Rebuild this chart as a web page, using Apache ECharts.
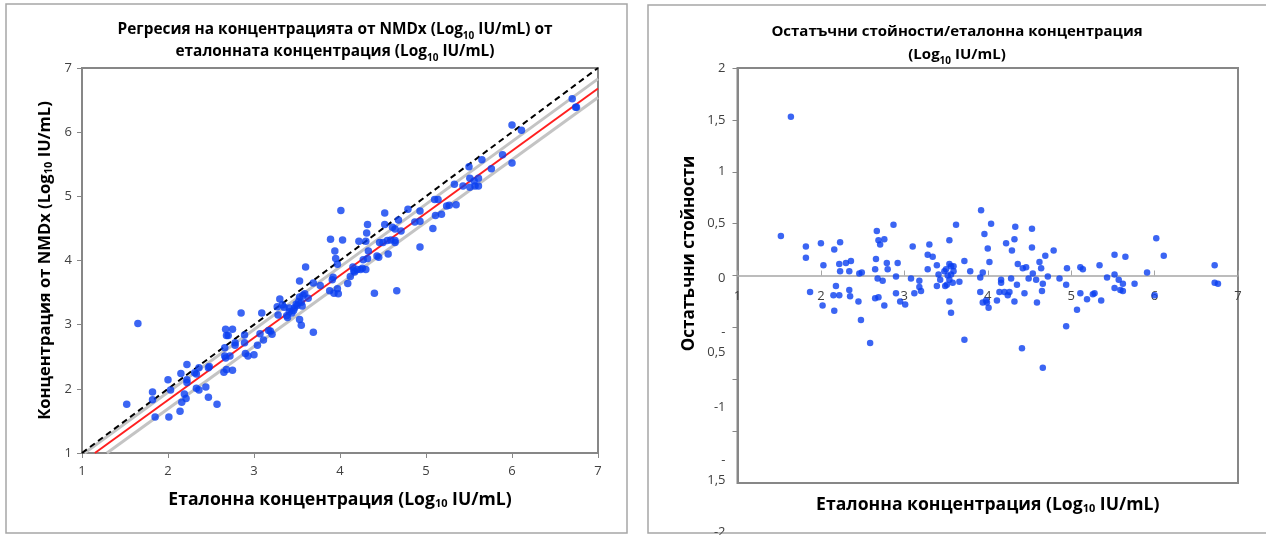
<!DOCTYPE html>
<html>
<head>
<meta charset="utf-8">
<script src="https://cdn.jsdelivr.net/npm/echarts@6/dist/echarts.min.js"></script>
<style>
  html, body { margin: 0; padding: 0; background: #fff; }
  #main { width: 1266px; height: 535px; }
</style>
</head>
<body>
<div id="main"></div>
<script>
// left chart: NMDx concentration vs reference concentration (log10 IU/mL)
const refConc = [
  1.52, 1.65, 1.82, 1.82, 1.85, 2.00, 2.01, 2.03, 2.15, 2.22, 2.16, 2.14, 2.21, 2.19, 2.22, 2.22,
  2.31, 2.33, 2.36, 2.33, 2.36, 2.44, 2.47, 2.47, 2.48, 2.57, 2.67, 2.68, 2.70, 2.75, 2.66, 2.66,
  2.67, 2.72, 2.65, 2.68, 2.75, 2.78, 2.78, 2.85, 2.89, 2.89, 2.90, 2.93, 3.00, 3.04, 3.07, 3.09,
  3.11, 3.17, 3.21, 3.19, 3.28, 3.30, 3.27, 3.33, 3.35, 3.39, 3.41, 3.41, 3.44, 3.47, 3.49, 3.53,
  3.53, 3.55, 3.53, 3.55, 3.56, 3.59, 3.60, 3.63, 3.69, 3.69, 3.77, 3.46, 3.50, 3.52, 3.38, 3.57,
  3.89, 3.91, 3.88, 3.93, 3.97, 3.98, 3.95, 3.97, 3.94, 4.01, 4.03, 4.09, 4.12, 4.15, 4.16, 4.20,
  4.22, 4.24, 4.27, 4.30, 4.31, 4.32, 4.32, 4.33, 4.40, 4.45, 4.26, 4.30, 4.17, 3.92,
  4.43, 4.46, 4.52, 4.52, 4.50, 4.56, 4.55, 4.59, 4.61, 4.64, 4.64, 4.64, 4.68, 4.66, 4.71, 4.79,
  4.87, 4.93, 4.93, 4.93, 5.08, 5.10, 5.14, 5.11, 5.18, 5.24, 5.27, 5.35, 5.33, 5.43, 5.50, 5.51,
  5.51, 5.56, 5.61, 5.57, 5.61, 5.65, 5.76, 5.89, 6.00, 6.00, 6.11, 6.70, 6.74, 6.75
];
const nmdxConc = [
  1.76, 3.02, 1.95, 1.83, 1.56, 2.14, 1.56, 1.98, 2.24, 2.38, 1.79, 1.65, 1.85, 1.92, 2.14, 2.10,
  2.25, 2.23, 2.33, 2.01, 1.98, 2.03, 1.87, 2.33, 2.35, 1.76, 2.93, 2.83, 2.83, 2.93, 2.64, 2.51,
  2.48, 2.51, 2.26, 2.30, 2.29, 2.72, 2.68, 3.18, 2.84, 2.72, 2.55, 2.51, 2.53, 2.68, 2.86, 3.18,
  2.76, 2.91, 2.85, 2.90, 3.15, 3.40, 3.28, 3.31, 3.27, 3.11, 3.20, 3.26, 3.18, 3.26, 3.32, 3.68,
  3.43, 3.35, 3.08, 2.99, 3.29, 3.48, 3.90, 3.41, 2.88, 3.65, 3.61, 3.22, 3.30, 3.36, 3.14, 3.46,
  4.33, 3.70, 3.53, 3.49, 3.56, 3.48, 4.03, 3.94, 4.15, 4.78, 4.32, 3.64, 3.75, 3.90, 3.84, 3.86,
  4.30, 3.86, 4.01, 4.30, 4.43, 4.56, 4.03, 4.15, 3.49, 4.05, 3.88, 3.86, 3.82, 3.74,
  4.07, 4.28, 4.74, 4.56, 4.28, 4.10, 4.31, 4.32, 4.52, 4.49, 4.31, 4.28, 4.63, 3.53, 4.46, 4.80,
  4.60, 4.77, 4.61, 4.21, 4.50, 4.95, 4.95, 4.70, 4.72, 4.85, 4.86, 4.87, 5.19, 5.16, 5.46, 5.28,
  5.14, 5.24, 5.28, 5.16, 5.16, 5.57, 5.43, 5.65, 5.52, 6.11, 6.03, 6.52, 6.39, 6.39
];

// reference lines (end points in data units)
const identityLine = [[1, 1], [7, 7]];
const fitLine = [[1.15, 1], [7, 6.68]];
const upperBand = [[1.03, 1], [7, 6.83]];
const lowerBand = [[1.29, 1], [7, 6.54]];

// right chart: residuals vs reference concentration
const residRefConc = [
  1.52, 1.64, 1.82, 1.82, 1.87, 2.00, 2.03, 2.02, 2.16, 2.23, 2.22, 2.23, 2.18, 2.15, 2.22, 2.16,
  2.30, 2.36, 2.34, 2.34, 2.35, 2.46, 2.49, 2.45, 2.48, 2.59, 2.67, 2.69, 2.76, 2.71, 2.66, 2.65,
  2.79, 2.80, 2.68, 2.74, 2.65, 2.69, 2.76, 2.87, 2.92, 2.90, 2.90, 2.95, 3.01, 3.10, 3.08, 3.12,
  3.18, 3.18, 3.20, 3.30, 3.28, 3.34, 3.28, 3.39, 3.41, 3.43, 3.39, 3.49, 3.48, 3.50, 3.54, 3.54,
  3.56, 3.59, 3.59, 3.56, 3.52, 3.54, 3.58, 3.51, 3.54, 3.56, 3.62, 3.66, 3.72, 3.72, 3.79, 3.92,
  3.96, 4.00, 4.02, 4.04, 3.94, 3.91, 3.91, 3.94, 3.98, 3.99, 4.01, 4.11, 4.14, 4.16, 4.16, 4.20,
  4.22, 4.24, 4.26, 4.28, 4.29, 4.32, 4.33, 4.32, 4.36, 4.35, 4.41, 4.42, 4.46, 4.44, 4.49, 4.53,
  4.53, 4.54, 4.58, 4.59, 4.62, 4.64, 4.66, 4.65, 4.66, 4.69, 4.72, 4.79, 4.86, 4.94, 4.94, 4.95,
  5.07, 5.11, 5.14, 5.11, 5.19, 5.26, 5.28, 5.34, 5.36, 5.43, 5.52, 5.52, 5.52, 5.57, 5.62, 5.59,
  5.62, 5.65, 5.76, 5.91, 6.00, 6.02, 6.11, 6.72, 6.72, 6.76
];
const residuals = [
  0.38, 1.53, 0.28, 0.17, -0.16, 0.31, 0.10, -0.29, 0.25, 0.32, 0.11, 0.04, -0.10, -0.19, -0.19, -0.34,
  0.12, 0.14, 0.04, -0.14, -0.20, 0.02, 0.03, -0.25, -0.43, -0.65, 0.43, 0.34, 0.35, 0.30, 0.16, 0.06,
  0.12, 0.06, -0.03, -0.05, -0.22, -0.21, -0.29, 0.49, 0.12, -0.01, -0.17, -0.25, -0.28, 0.28, -0.03, -0.17,
  -0.05, -0.11, -0.15, 0.30, 0.20, 0.18, 0.06, 0.10, 0.01, -0.04, -0.10, -0.10, 0.04, 0.06, 0.34, 0.11,
  0.09, 0.09, 0.04, 0.01, 0.00, -0.04, -0.07, -0.09, -0.25, -0.36, 0.49, -0.06, 0.14, -0.62, 0.04, 0.63,
  0.40, 0.26, 0.13, 0.50, 0.03, -0.02, -0.16, -0.26, -0.24, -0.26, -0.31, -0.24, -0.16, -0.07, -0.04, -0.16,
  0.31, -0.19, -0.16, -0.03, 0.24, 0.35, 0.47, -0.25, 0.11, -0.09, -0.70, 0.07, 0.08, -0.17, -0.03, 0.45,
  0.27, 0.02, -0.04, -0.26, 0.13, 0.07, -0.08, -0.15, -0.89, 0.19, -0.01, 0.24, -0.03, -0.09, -0.49, 0.07,
  -0.33, 0.08, 0.06, -0.17, -0.23, -0.18, -0.17, 0.10, -0.24, -0.02, 0.20, 0.01, -0.12, -0.04, -0.08, -0.14,
  -0.15, 0.18, -0.08, 0.03, -0.19, 0.36, 0.19, 0.10, -0.07, -0.08
];

const axisTicks = [1, 2, 3, 4, 5, 6, 7];
const residTickValues = [2, 1.5, 1, 0.5, 0, -0.5, -1, -1.5, -2];
const residTickLabels = ['2', '1,5', '1', '0,5', '0', '-\n0,5', '-1', '-\n1,5', '-2'];

const FONT = '"Open Sans", "Noto Sans", sans-serif';
const BLUE = '#0a3ef0';
const AXIS = '#878787';

const pairs = (xs, ys) => xs.map((x, i) => [x, ys[i]]);

// how far Excel pushed each residual tick label down (px)
const labelDrop = [0, 0, 0, 0, 3, 15, 28, 39, 49];
const residRich = { t: { fontFamily: FONT, fontSize: 13, color: '#404040', lineHeight: 20, align: 'right' } };
labelDrop.forEach((d, i) => {
  residRich['g' + i] = { fontSize: 2, lineHeight: Math.max(1, 2 * d), align: 'right' };
});
const residLabel = (v, onlyMin) => {
  const i = residTickValues.findIndex(t => Math.abs(t - v) < 1e-9);
  if (i < 0) return '';
  const isMin = i === residTickValues.length - 1;
  if (isMin !== onlyMin) return '';
  const lines = residTickLabels[i].split('\n').map(s => '{t|' + s + '}').join('\n');
  return labelDrop[i] ? '{g' + i + '| }\n' + lines : lines;
};

const subRich = {
  s: { fontFamily: FONT, fontWeight: 'bold', fontSize: 10, verticalAlign: 'bottom', lineHeight: 13 }
};
const subRichBig = {
  s: { fontFamily: FONT, fontWeight: 'bold', fontSize: 11, verticalAlign: 'bottom', lineHeight: 15 }
};

const plainAxis = {
  axisLine: { show: true, onZero: false, lineStyle: { color: AXIS, width: 2 } },
  axisTick: { show: true, inside: false, length: 5, lineStyle: { color: AXIS, width: 1 } },
  splitLine: { show: false },
  axisLabel: { color: '#404040', fontFamily: FONT, fontSize: 13 }
};

const chart = echarts.init(document.getElementById('main'));

const option = {
  animation: false,
  backgroundColor: '#fff',
  textStyle: { fontFamily: FONT },
  graphic: [
    { type: 'rect', z: -1, shape: { x: 6, y: 4, width: 621, height: 529 },
      style: { fill: 'none', stroke: '#a6a6a6', lineWidth: 1.5 } },
    { type: 'rect', z: -1, shape: { x: 648, y: 5, width: 640, height: 528 },
      style: { fill: 'none', stroke: '#a6a6a6', lineWidth: 1.5 } }
  ],
  title: [
    {
      text: 'Регресия на концентрацията от NMDx (Log{s|10} IU/mL) от\nеталонната концентрация (Log{s|10} IU/mL)',
      left: 335, top: 19, textAlign: 'center', padding: 0,
      textStyle: { fontFamily: FONT, fontWeight: 'bold', fontSize: 15.4, color: '#000', lineHeight: 22, rich: subRich }
    },
    {
      text: 'Остатъчни стойности/еталонна концентрация\n(Log{s|10} IU/mL)',
      left: 957, top: 20, textAlign: 'center', padding: 0,
      textStyle: { fontFamily: FONT, fontWeight: 'bold', fontSize: 15, color: '#000', lineHeight: 23, rich: subRich }
    }
  ],
  grid: [
    { left: 82, top: 68, width: 516, height: 385, show: true, borderColor: AXIS, borderWidth: 2,
      containLabel: false, outerBoundsMode: 'none' },
    { left: 737.5, top: 68, width: 500.5, height: 415, show: true, borderColor: AXIS, borderWidth: 2,
      containLabel: false, outerBoundsMode: 'none' }
  ],
  xAxis: [
    {
      gridIndex: 0, type: 'value', min: 1, max: 7, interval: 1,
      ...plainAxis,
      axisLabel: { ...plainAxis.axisLabel, margin: 12, formatter: v => axisTicks.includes(v) ? String(v) : '' },
      name: 'Еталонна концентрация (Log{s|10} IU/mL)', nameLocation: 'middle', nameGap: 38,
      nameTextStyle: { fontFamily: FONT, fontWeight: 'bold', fontSize: 17.6, color: '#000', rich: subRichBig }
    },
    {
      gridIndex: 1, type: 'value', min: 1, max: 7, interval: 1,
      axisLine: { show: true, onZero: true, lineStyle: { color: '#a6a6a6', width: 1.5 } },
      axisTick: { show: true, inside: true, length: 5, lineStyle: { color: '#a6a6a6', width: 1 } },
      splitLine: { show: false },
      // labels sit just under the zero line, not at the plot bottom
      axisLabel: { color: '#404040', fontFamily: FONT, fontSize: 13, margin: -193,
        formatter: v => axisTicks.includes(v) ? String(v) : '' },
      name: 'Еталонна концентрация (Log{s|10} IU/mL)', nameLocation: 'middle', nameGap: 13,
      nameTextStyle: { fontFamily: FONT, fontWeight: 'bold', fontSize: 17.6, color: '#000', rich: subRichBig }
    }
  ],
  yAxis: [
    {
      gridIndex: 0, type: 'value', min: 1, max: 7, interval: 1,
      ...plainAxis,
      axisLabel: { ...plainAxis.axisLabel, margin: 10 },
      name: 'Концентрация от NMDx (Log{s|10} IU/mL)', nameLocation: 'middle', nameGap: 28, nameRotate: 90,
      nameTextStyle: { fontFamily: FONT, fontWeight: 'bold', fontSize: 16.6, color: '#000', rich: subRichBig }
    },
    {
      gridIndex: 1, type: 'value', min: -2, max: 2, interval: 0.5, position: 'left',
      ...plainAxis,
      axisLabel: {
        margin: 12, rich: residRich, showMinLabel: false, showMaxLabel: true, hideOverlap: false,
        formatter: v => residLabel(v, false)
      },
      name: 'Остатъчни стойности', nameLocation: 'middle', nameGap: 40, nameRotate: 90,
      nameTextStyle: { fontFamily: FONT, fontWeight: 'bold', fontSize: 17, color: '#000', padding: [0, 0, 0, 44] }
    },
    {
      // carries only the "-2" label, which Excel pushed below the plot
      gridIndex: 1, type: 'value', min: -2, max: 2, interval: 0.5, position: 'left', offset: 0,
      axisLine: { show: false, onZero: false }, axisTick: { show: false }, splitLine: { show: false },
      axisLabel: {
        margin: 12, rich: residRich, showMinLabel: true, showMaxLabel: false, hideOverlap: false,
        formatter: v => residLabel(v, true)
      }
    }
  ],
  series: [
    { type: 'line', xAxisIndex: 0, yAxisIndex: 0, data: lowerBand, symbol: 'none', z: 2,
      lineStyle: { color: '#c4c4c4', width: 3 } },
    { type: 'line', xAxisIndex: 0, yAxisIndex: 0, data: upperBand, symbol: 'none', z: 2,
      lineStyle: { color: '#c4c4c4', width: 3 } },
    { type: 'line', xAxisIndex: 0, yAxisIndex: 0, data: fitLine, symbol: 'none', z: 3,
      lineStyle: { color: '#ff1f1f', width: 2 } },
    { type: 'line', xAxisIndex: 0, yAxisIndex: 0, data: identityLine, symbol: 'none', z: 3,
      lineStyle: { color: '#000', width: 2, type: [6, 4] } },
    { type: 'scatter', xAxisIndex: 0, yAxisIndex: 0, data: pairs(refConc, nmdxConc), z: 5,
      symbolSize: 7.5, itemStyle: { color: BLUE } },
    { type: 'scatter', xAxisIndex: 1, yAxisIndex: 1, data: pairs(residRefConc, residuals), z: 5,
      symbolSize: 6.5, itemStyle: { color: BLUE } }
  ]
};

chart.setOption(option);
</script>
</body>
</html>
